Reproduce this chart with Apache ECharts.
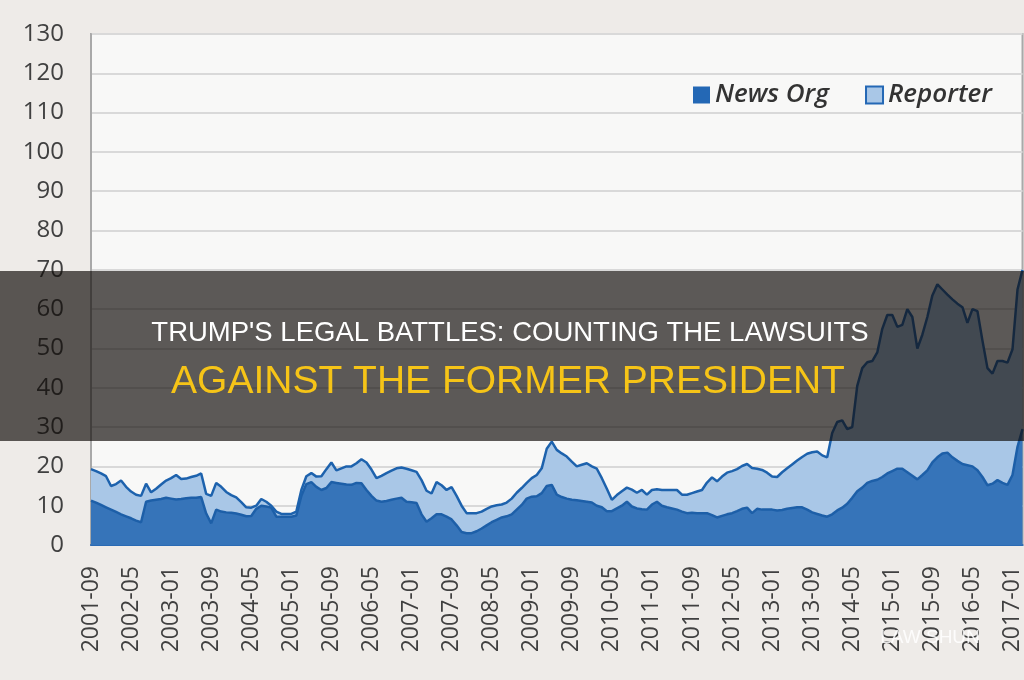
<!DOCTYPE html>
<html>
<head>
<meta charset="utf-8">
<style>
  html, body { margin: 0; padding: 0; background: #eeebe8; }
  #chart { width: 1024px; height: 680px; }
</style>
<script src="https://cdn.jsdelivr.net/npm/echarts@6/dist/echarts.min.js"></script>
</head>
<body>
<div id="chart"></div>
<script>
// monthly series, starting 2001-09
var startYear = 2001;
var startMonth = 9;

var newsOrg = [
  11.3, 10.8, 10.2, 9.6, 9, 8.4, 7.8, 7.3, 6.8, 6.2, 5.8, 11,
  11.3, 11.5, 11.7, 12, 11.8, 11.6, 11.7, 11.9, 12, 12, 12.2, 8,
  5.5, 9, 8.5, 8.3, 8.2, 8, 7.7, 7.3, 7.4, 9.2, 10, 9.8,
  9.5, 7.2, 7.2, 7.2, 7.2, 7.5, 12.5, 15.5, 16, 14.8, 14, 14.5,
  16, 15.8, 15.6, 15.4, 15.3, 15.8, 15.7, 14, 12.5, 11.3, 11, 11.2,
  11.5, 11.8, 12, 11, 10.9, 10.7, 7.8, 5.9, 6.8, 7.8, 7.8, 7.2,
  6.5, 5, 3.3, 3, 3, 3.5, 4.2, 5, 5.8, 6.4, 7, 7.3,
  7.8, 9, 10.2, 11.8, 12.3, 12.4, 13.2, 15, 15.3, 12.8, 12.2, 11.8,
  11.5, 11.4, 11.2, 11, 10.8, 10, 9.6, 8.6, 8.6, 9.3, 10, 11,
  9.8, 9.3, 9.1, 9, 10.3, 11, 10, 9.6, 9.3, 9, 8.5, 8.1,
  8.2, 8.1, 8.1, 8.1, 7.6, 7, 7.4, 7.8, 8.1, 8.6, 9.2, 9.5,
  8.1, 9.2, 9, 9, 9, 8.8, 8.9, 9.2, 9.4, 9.6, 9.6, 9,
  8.3, 7.9, 7.5, 7.2, 7.8, 8.8, 9.5, 10.5, 12, 13.7, 14.6, 15.8,
  16.3, 16.6, 17.3, 18.2, 18.8, 19.4, 19.4, 18.5, 17.6, 16.7, 17.8, 19,
  21, 22.3, 23.3, 23.5, 22.3, 21.4, 20.6, 20.3, 20, 19, 17.3, 15.2,
  15.6, 16.5, 15.8, 15.3, 17.8, 25, 29.5
];

var reporter = [
  8, 8, 8, 7.9, 6, 7.1, 8.6, 7.5, 6.8, 6.6, 6.7, 4.6,
  2.1, 2.8, 3.7, 4.4, 5.2, 6.2, 5.1, 5, 5.3, 5.6, 6, 5,
  7, 6.8, 6.3, 5.2, 4.5, 4.1, 3.2, 2.3, 2.1, 0.8, 1.7, 1.2,
  0.5, 1.3, 0.7, 0.7, 0.7, 1, 1.5, 2, 2.3, 2.6, 3.5, 4.8,
  5, 3.2, 3.9, 4.6, 4.7, 5, 6.1, 7, 6.7, 5.7, 6.6, 7.1,
  7.4, 7.7, 7.7, 8.4, 8.1, 7.9, 8.7, 7.9, 6.3, 8.2, 7.4, 6.8,
  8.2, 7.5, 6.7, 5.1, 5.1, 4.6, 4.3, 4.2, 4, 3.7, 3.3, 3.5,
  4, 4.3, 4.3, 4, 4.7, 5.4, 6.3, 9.5, 11, 11.4, 11.1, 10.7,
  9.7, 8.6, 9.2, 9.8, 9.2, 9.4, 7.4, 5.7, 2.9, 3.4, 3.7, 3.6,
  4.3, 4, 4.9, 3.8, 3.7, 3.2, 4, 4.4, 4.7, 5, 4.3, 4.7,
  5, 5.5, 5.9, 7.8, 9.6, 9.2, 10, 10.6, 10.7, 10.7, 10.9, 11.1,
  11.5, 10.2, 10.1, 9.4, 8.4, 8.5, 9.6, 10.3, 11.1, 11.9, 12.8, 14.2,
  15.3, 15.9, 15.3, 15.1, 20.7, 22.5, 22.2, 19, 18, 26.8, 30.4, 30.7,
  30.5, 32.4, 37.7, 40.3, 39.7, 36.1, 36.6, 41.5, 40.4, 33.3, 35.7, 39,
  42.5, 44, 41.7, 40.2, 40.2, 40, 39.9, 36.2, 40, 40.5, 34.7, 29.8,
  28, 30.3, 31, 31.1, 32, 40, 40.5
];

var seriesNames = ['News Org', 'Reporter'];
var titleLine1 = "TRUMP'S LEGAL BATTLES: COUNTING THE LAWSUITS";
var titleLine2 = 'AGAINST THE FORMER PRESIDENT';

// month labels YYYY-MM
var months = [];
for (var i = 0; i < newsOrg.length; i++) {
  var m = startMonth - 1 + i;
  var y = startYear + Math.floor(m / 12);
  var mm = (m % 12) + 1;
  months.push(y + '-' + (mm < 10 ? '0' + mm : mm));
}

var chart = echarts.init(document.getElementById('chart'));
var option = {
  backgroundColor: '#eeebe8',
  animation: false,
  legend: {
    left: 688,
    top: 77,
    itemWidth: 17,
    itemHeight: 17,
    itemGap: 36,
    icon: 'rect',
    textStyle: {
      fontFamily: 'Open Sans',
      fontStyle: 'italic',
      fontWeight: 600,
      fontSize: 26,
      color: '#333333'
    },
    data: [
      { name: seriesNames[0], itemStyle: { color: '#2468b5' } },
      { name: seriesNames[1], itemStyle: { color: '#a9c7e7', borderColor: '#2468b5', borderWidth: 2 } }
    ]
  },
  grid: {
    left: 91,
    top: 34,
    width: 934,
    height: 511,
    show: true,
    backgroundColor: '#f8f8f7',
    borderColor: '#a9a9a9',
    borderWidth: 2
  },
  xAxis: {
    type: 'category',
    boundaryGap: false,
    data: months,
    axisLine: { lineStyle: { color: '#2a6ab4', width: 2 } },
    axisTick: { show: false },
    axisLabel: {
      interval: 7,
      rotate: 90,
      margin: 21,
      fontFamily: 'Open Sans',
      fontSize: 23,
      color: '#404040'
    },
    splitLine: { show: false }
  },
  yAxis: {
    type: 'value',
    min: 0,
    max: 130,
    interval: 10,
    axisLine: { show: true, lineStyle: { color: '#a9a9a9', width: 2 } },
    axisTick: { show: false },
    axisLabel: {
      margin: 27,
      fontFamily: 'Open Sans',
      fontSize: 24,
      color: '#404040'
    },
    splitLine: { lineStyle: { color: '#d9d9d9', width: 2 } }
  },
  series: [
    {
      name: seriesNames[0],
      type: 'line',
      stack: 'total',
      data: newsOrg,
      symbol: 'none',
      lineStyle: { color: '#1d5fa8', width: 2.5 },
      itemStyle: { color: '#2468b5' },
      areaStyle: { color: '#3674b9', opacity: 1 }
    },
    {
      name: seriesNames[1],
      type: 'line',
      stack: 'total',
      data: reporter,
      symbol: 'none',
      lineStyle: { color: '#1d62ad', width: 2.5 },
      itemStyle: { color: '#a9c7e7' },
      areaStyle: { color: '#a9c7e7', opacity: 1 }
    }
  ],
  graphic: [
    {
      type: 'rect',
      z: 100,
      shape: { x: 0, y: 271, width: 1024, height: 170 },
      style: { fill: 'rgba(18, 14, 10, 0.68)' }
    },
    {
      type: 'text',
      z: 101,
      x: 510,
      y: 333,
      style: {
        text: titleLine1,
        fill: '#ffffff',
        font: '27.5px "Liberation Sans", Arial, sans-serif',
        textAlign: 'center',
        textVerticalAlign: 'middle'
      }
    },
    {
      type: 'text',
      z: 101,
      x: 508,
      y: 382,
      style: {
        text: titleLine2,
        fill: '#f6c417',
        font: '500 39px "Liberation Sans", Arial, sans-serif',
        textAlign: 'center',
        textVerticalAlign: 'middle'
      }
    },
    {
      type: 'text',
      z: 101,
      x: 930,
      y: 638,
      style: {
        text: 'LAW SHUN',
        fill: 'rgba(255, 255, 255, 0.85)',
        font: '19px "Liberation Sans", Arial, sans-serif',
        textAlign: 'center',
        textVerticalAlign: 'middle'
      }
    }
  ]
};
chart.setOption(option);
</script>
</body>
</html>
